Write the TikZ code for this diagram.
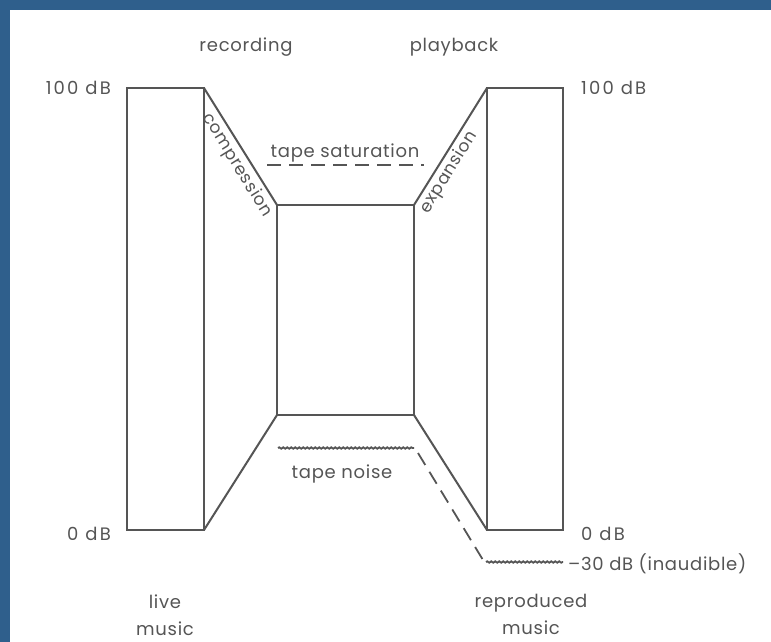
\documentclass[tikz,border=0pt]{standalone}
\usepackage{fontspec}
\setmainfont{Poppins}[LetterSpace=4]
\newfontfamily\levelfont{Poppins}[LetterSpace=12]
\usetikzlibrary{decorations.pathmorphing}
\definecolor{frameblue}{HTML}{2F5F8C}
\definecolor{ink}{HTML}{555555}
\begin{document}
\begin{tikzpicture}[x=1pt,y=-1pt,
  outline/.style={draw=ink, line width=2pt, line join=miter},
  satline/.style={draw=ink, line width=1.8pt, dash pattern=on 14pt off 8pt},
  noise/.style={draw=ink, line width=1.8pt, decorate,
    decoration={snake, amplitude=0.7pt, segment length=4pt}},
  lbl/.style={text=ink, font=\fontsize{18}{27}\selectfont, inner sep=0pt},
  level/.style={lbl, font=\levelfont\fontsize{18}{27}\selectfont},
  slant/.style={lbl, font=\fontsize{17}{20}\selectfont, anchor=north}]
% page and blue frame
\useasboundingbox (0,0) rectangle (771,642);
\fill[white] (0,0) rectangle (771,642);
\fill[frameblue] (0,0) rectangle (771,10);
\fill[frameblue] (0,0) rectangle (10,642);

% corner points of the level diagram
\coordinate (LTL) at (127,88);  \coordinate (LTR) at (204,88);
\coordinate (LBL) at (127,530); \coordinate (LBR) at (204,530);
\coordinate (CTL) at (277,205); \coordinate (CTR) at (414,205);
\coordinate (CBL) at (277,415); \coordinate (CBR) at (414,415);
\coordinate (RTL) at (487,88);  \coordinate (RTR) at (563,88);
\coordinate (RBL) at (487,530); \coordinate (RBR) at (563,530);

% live music range
\draw[outline] (LTL) rectangle (LBR);
% recording: compression into the tape
\draw[outline] (LTR) -- (CTL);
\draw[outline] (LBR) -- (CBL);
% tape range
\draw[outline] (CTL) rectangle (CBR);
% playback: expansion out of the tape
\draw[outline] (CTR) -- (RTL);
\draw[outline] (CBR) -- (RBL);
% reproduced music range
\draw[outline] (RTL) rectangle (RBR);

% tape saturation
\coordinate (SatA) at (267,165); \coordinate (SatB) at (424,165);
\draw[satline] (SatA) -- (SatB);
\node[lbl, anchor=base] (sat) at (345,157) {tape saturation};

% tape noise, and where it lands after expansion
\coordinate (NzA) at (278,448); \coordinate (NzB) at (414,448);
\draw[noise] (NzA) -- (NzB);
\node[lbl, anchor=base] (tn) at (342,478) {tape noise};
\coordinate (NzC) at (418,453); \coordinate (NzD) at (483,560);
\draw[satline] (NzC) -- (NzD);
\coordinate (NzE) at (486,562); \coordinate (NzF) at (563,562);
\draw[noise] (NzE) -- (NzF);
\node[lbl, anchor=base west] (inaud) at (568,570) {\char"2013 30 dB (inaudible)};

% level labels
\node[level, anchor=base east] (l100) at (111,95) {100 dB};
\node[level, anchor=base east] (l0) at (111,540) {0 dB};
\node[level, anchor=base west] (r100) at (581,94) {100 dB};
\node[level, anchor=base west] (r0) at (581,540) {0 dB};

% stage labels
\node[lbl, anchor=base] (rec) at (246,52) {recording};
\node[lbl, anchor=base] (play) at (454,52) {playback};
\node[slant, rotate=-58] (comp) at (244.5,160.5) {compression};
\node[slant, rotate=58] (exp) at (441.5,168) {expansion};

% source and result
\node[lbl, align=center, anchor=base] (live) at (165,635) {live\\music};
\node[lbl, align=center, anchor=base] (repro) at (531,634) {reproduced\\music};
\end{tikzpicture}
\end{document}
